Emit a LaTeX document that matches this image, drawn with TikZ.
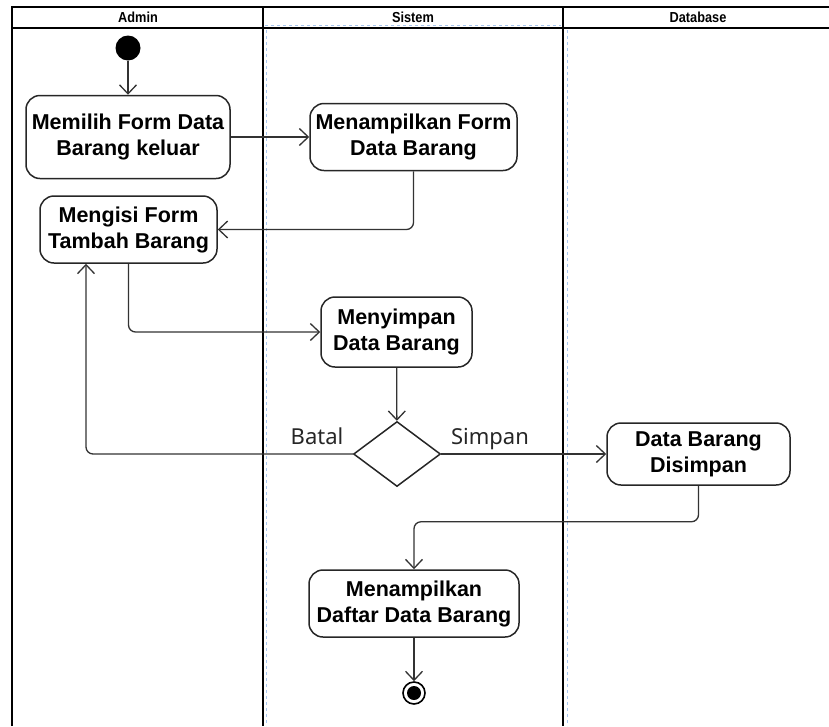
\documentclass[tikz,border=0pt]{standalone}
\usepackage{fontspec}
\setmainfont{Liberation Sans}
\newfontfamily\labelfont{Noto Sans}
\newfontfamily\headfont[FakeStretch=0.88]{Liberation Sans}
\usetikzlibrary{arrows.meta,shapes.geometric}
\definecolor{guideblue}{HTML}{A8C6EE}
\begin{document}
\begin{tikzpicture}[x=1pt,y=-1pt,
  act/.style={draw=black!85,line width=1.5pt,rounded corners=14pt,align=center,
    font=\fontsize{21.5}{26}\selectfont\bfseries,inner sep=0pt},
  flow/.style={draw=black!80,line width=1.3pt,
    -{Straight Barb[length=9pt,width=17pt,line width=1.3pt]},rounded corners=7pt},
  lane/.style={line width=2.5pt,black},
  guide/.style={draw=guideblue,dashed,line width=1pt},
  head/.style={font=\headfont\fontsize{14.5}{16}\selectfont\bfseries,anchor=base},
  lbl/.style={font=\labelfont\fontsize{22}{26}\selectfont,anchor=base,text=black!85}
]
\useasboundingbox (0,0) rectangle (829,726);

% swimlanes
\draw[guide] (266,30) -- (266,726);
\draw[guide] (567,30) -- (567,726);
\draw[guide] (265,25) -- (561,25);
\draw[lane] (12,726) -- (12,7) -- (829,7);
\draw[lane] (12,28) -- (829,28);
\draw[lane] (263,7) -- (263,726);
\draw[lane] (563,7) -- (563,726);
\node[head] (hA) at (138,22.5) {Admin};
\node[head] (hS) at (413,22.5) {Sistem};
\node[head] (hD) at (698,22.5) {Database};

% nodes
\node[circle,fill=black,minimum size=25pt,inner sep=0pt] (s) at (128,48) {};
\node[act,minimum width=204pt,minimum height=83pt] (n1) at (128,137) {Memilih Form Data\\Barang keluar};
\node[act,minimum width=207pt,minimum height=67pt] (n2) at (413.5,137) {Menampilkan Form\\Data Barang};
\node[act,minimum width=177pt,minimum height=67pt] (n3) at (128.5,229.5) {Mengisi Form\\Tambah Barang};
\node[act,minimum width=151pt,minimum height=70pt] (n4) at (396.5,332) {Menyimpan\\Data Barang};
\node[diamond,draw=black!85,line width=1.5pt,minimum width=87pt,minimum height=65pt,inner sep=0pt] (d) at (397,454) {};
\node[act,minimum width=183pt,minimum height=62pt] (n5) at (698.5,454) {Data Barang\\Disimpan};
\node[act,minimum width=210pt,minimum height=67pt] (n6) at (414,603.5) {Menampilkan\\Daftar Data Barang};
\node[circle,draw=black,line width=1.6pt,minimum size=22pt,inner sep=0pt] (e) at (414,693) {};
\node[circle,fill=black,minimum size=14pt,inner sep=0pt] (ei) at (e) {};

% labels
\node[lbl] (lb) at (317,444) {Batal};
\node[lbl] (ls) at (490,444) {Simpan};

% flows
\draw[flow] (s) -- (n1);
\draw[flow] (n1) -- (n2);
\draw[flow] (n2.south) |- (n3.east);
\draw[flow] (n3.south) |- (n4.west);
\draw[flow] (n4) -- (d);
\draw[flow] (d.west) -| ([xshift=-42.5pt]n3.south);
\draw[flow] (d.east) -- (n5.west);
\draw[flow] (n5.south) -- ++(0,36) -| (n6.north);
\draw[flow] (n6) -- (e);
\end{tikzpicture}
\end{document}
